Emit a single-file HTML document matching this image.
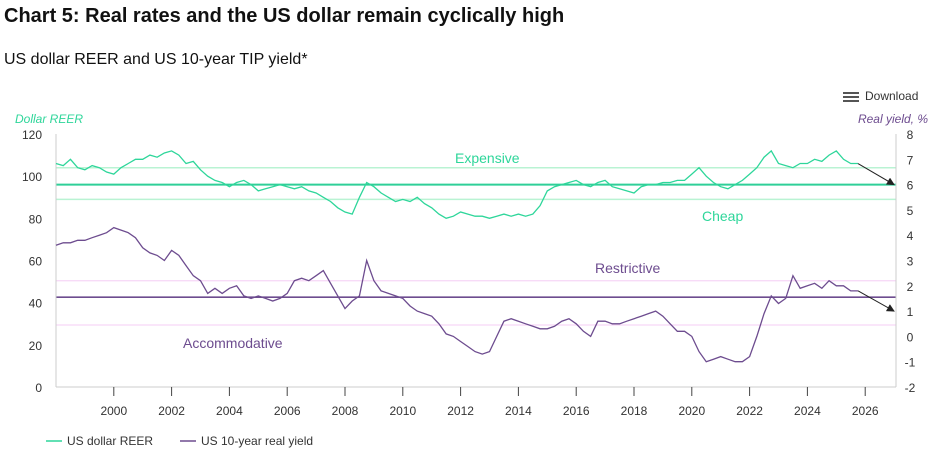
<!DOCTYPE html>
<html><head><meta charset="utf-8"><style>
body{margin:0;width:936px;height:463px;background:#fff;font-family:"Liberation Sans",sans-serif;overflow:hidden;position:relative}
.t{position:absolute;white-space:nowrap}
</style></head><body>
<div class="t" style="left:4px;top:5px;font-size:20px;font-weight:bold;color:#111">Chart 5: Real rates and the US dollar remain cyclically high</div>
<div class="t" style="left:4px;top:51px;font-size:16px;color:#111">US dollar REER and US 10-year TIP yield*</div>
<div class="t" style="left:843px;top:89px;font-size:12px;color:#333"><span style="display:inline-block;width:16px;vertical-align:middle;margin-right:6px"><span style="display:block;height:2px;background:#555;margin:2px 0"></span><span style="display:block;height:2px;background:#555;margin:2px 0"></span><span style="display:block;height:2px;background:#555;margin:2px 0"></span></span>Download</div>
<svg id="c" width="936" height="463" style="position:absolute;left:0;top:0"></svg>
<script>
const years=[2000,2002,2004,2006,2008,2010,2012,2014,2016,2018,2020,2022,2024,2026];
const leftTicks=[0,20,40,60,80,100,120];
const rightTicks=[-2,-1,0,1,2,3,4,5,6,7,8];
const startYear=1998;
const reer=[106,105,108,104,103,105,104,102,101,104,106,108,108,110,109,111,112,110,106,107,103,100,98,97,95,97,98,96,93,94,95,96,95,94,95,93,92,90,88,85,83,82,90,97,95,92,90,88,89,88,90,87,85,82,80,81,83,82,81,81,80,81,82,81,82,81,82,86,93,95,96,97,98,96,95,97,98,95,94,93,92,95,96,96,97,97,98,98,101,104,100,97,95,94,96,98,101,104,109,112,106,105,104,106,106,108,107,110,112,108,106,106];
const realYield=[3.6,3.7,3.7,3.8,3.8,3.9,4.0,4.1,4.3,4.2,4.1,3.9,3.5,3.3,3.2,3.0,3.4,3.2,2.8,2.4,2.2,1.7,1.9,1.7,1.9,2.0,1.6,1.5,1.6,1.5,1.4,1.5,1.7,2.2,2.3,2.2,2.4,2.6,2.1,1.6,1.1,1.4,1.6,3.0,2.2,1.8,1.7,1.6,1.5,1.2,1.0,0.9,0.8,0.5,0.1,0.0,-0.2,-0.4,-0.6,-0.7,-0.6,0.0,0.6,0.7,0.6,0.5,0.4,0.3,0.3,0.4,0.6,0.7,0.5,0.2,0.0,0.6,0.6,0.5,0.5,0.6,0.7,0.8,0.9,1.0,0.8,0.5,0.2,0.2,0.0,-0.6,-1.0,-0.9,-0.8,-0.9,-1.0,-1.0,-0.8,0.0,0.9,1.6,1.3,1.5,2.4,1.9,2.0,2.1,1.9,2.2,2.0,2.0,1.8,1.8];
const reerBands=[104,96,89];
const yieldBands=[2.2,1.55,0.45];
const arrowTargets=[96,1.0];
const X0=56,X1=896,Y0=387,Y1=134,PX=28.9;
const x=t=>X0+(t-startYear)*PX;
const yl=v=>Y0-(v/120)*(Y0-Y1);
const yr=v=>Y0-((v+2)/10)*(Y0-Y1);
const svg=document.getElementById('c');const NS='http://www.w3.org/2000/svg';
function mk(tag,a,txt){const e=document.createElementNS(NS,tag);for(const k in a)e.setAttribute(k,a[k]);if(txt!==undefined)e.textContent=txt;svg.appendChild(e);return e;}
reerBands.forEach((v,i)=>{const e=mk('line',{x1:X0,x2:X1,y1:yl(v),y2:yl(v),stroke:i==1?'#2fcf98':'#b9f3d3','stroke-width':i==1?2:1.5});

});
yieldBands.forEach((v,i)=>{const e=mk('line',{x1:X0,x2:X1,y1:yr(v),y2:yr(v),stroke:i==1?'#6d4c8f':'#f6d6f6','stroke-width':i==1?1.6:1.2});

});
let ax=mk('line',{x1:X0,x2:X0,y1:Y1,y2:Y0,stroke:'#ccc'});
ax=mk('line',{x1:X1,x2:X1,y1:Y1,y2:Y0,stroke:'#ccc'});
ax=mk('line',{x1:X0,x2:X1,y1:Y0,y2:Y0,stroke:'#ccc'});
years.forEach(yv=>{const t=mk('line',{x1:x(yv),x2:x(yv),y1:Y0,y2:Y0+9,stroke:'#444'});
const l=mk('text',{x:x(yv),y:Y0+28,'text-anchor':'middle','font-size':12,fill:'#333'},yv);});
leftTicks.forEach(v=>{const l=mk('text',{x:42,y:yl(v)+5,'text-anchor':'end','font-size':12,fill:'#333'},v);});
rightTicks.forEach(v=>{const l=mk('text',{x:910,y:yr(v)+5,'text-anchor':'middle','font-size':12,fill:'#333'},v);});
function pts(arr,fy){return arr.map((v,i)=>x(startYear+i*0.25)+','+fy(v).toFixed(1)).join(' ');}
let s=mk('polyline',{points:pts(reer,yl),fill:'none',stroke:'#2ed69a','stroke-width':1.3});
s=mk('polyline',{points:pts(realYield,yr),fill:'none',stroke:'#6d4c8f','stroke-width':1.3});
mk('defs',{}).innerHTML='<marker id="ah" markerWidth="8" markerHeight="8" refX="7" refY="4" orient="auto"><path d="M0,0L8,4L0,8z" fill="#222"/></marker>';
const lt=startYear+(reer.length-1)*0.25;
let a=mk('line',{x1:x(lt),y1:yl(reer[reer.length-1]),x2:X1-2,y2:yl(arrowTargets[0]),stroke:'#222','stroke-width':1,'marker-end':'url(#ah)'});
a=mk('line',{x1:x(lt),y1:yr(realYield[realYield.length-1]),x2:X1-2,y2:yr(arrowTargets[1]),stroke:'#222','stroke-width':1,'marker-end':'url(#ah)'});
const labs=[['Expensive',455,163,'#2ed69a','expensive-label'],['Cheap',702,221,'#2ed69a','cheap-label'],['Restrictive',595,273,'#6d4c8f','restrictive-label'],['Accommodative',183,348,'#6d4c8f','accommodative-label']];
labs.forEach(l=>{const e=mk('text',{x:l[1],y:l[2],'font-size':14,fill:l[3]},l[0]);});
let e=mk('text',{x:15,y:123,'font-size':12,'font-style':'italic',fill:'#2ed69a'},'Dollar REER');
e=mk('text',{x:928,y:123,'font-size':12,'font-style':'italic',fill:'#6d4c8f','text-anchor':'end'},'Real yield, %');
e=mk('line',{x1:46,x2:62,y1:441,y2:441,stroke:'#2ed69a','stroke-width':1.5});
e=mk('text',{x:67,y:445,'font-size':12,fill:'#333'},'US dollar REER');
e=mk('line',{x1:180,x2:196,y1:441,y2:441,stroke:'#6d4c8f','stroke-width':1.5});
e=mk('text',{x:201,y:445,'font-size':12,fill:'#333'},'US 10-year real yield');
</script>
</body></html>
